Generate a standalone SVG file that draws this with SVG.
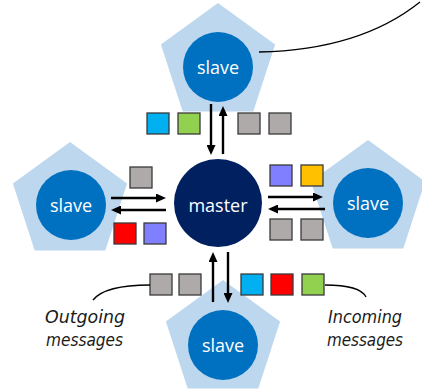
<svg xmlns="http://www.w3.org/2000/svg" width="422" height="392" viewBox="0 0 422 392">
<style>
.pent{fill:#BDD7EE}
.slave{fill:#0070C0}
.lbl{font-family:"Open Sans","Liberation Sans",sans-serif;font-size:18px;fill:#FFFFFF;text-anchor:middle}
.sq{stroke:#3A3A3A;stroke-width:1.3}
.gray{fill:#AEAAAA}.cyan{fill:#00B0F0}.green{fill:#92D050}.red{fill:#FF0000}.blue{fill:#7F7FFF}.yellow{fill:#FFC000}
.arr{stroke:#000;stroke-width:2.4;fill:none;marker-end:url(#ah)}
.curve{stroke:#000;stroke-width:1.3;fill:none}
.note{font-family:"DejaVu Sans","Liberation Sans",sans-serif;font-style:italic;font-size:17px;fill:#1A1A1A}
</style>
<defs>
<marker id="ah" markerUnits="userSpaceOnUse" markerWidth="10" markerHeight="9" refX="2" refY="4.5" orient="auto">
<path d="M0,0 L10,4.5 L0,9 Z" fill="#000"/>
</marker>
</defs>
<g id="slave-top">
<polygon class="pent" points="218,3 275.1,44.5 253.3,111.5 182.7,111.5 160.9,44.5"/>
<circle class="slave" cx="218" cy="67" r="35"/>
<text class="lbl" x="218" y="74">slave</text>
</g>
<g id="slave-left">
<polygon class="pent" points="70,142 127.1,183.5 105.3,250.5 34.7,250.5 12.9,183.5"/>
<circle class="slave" cx="71" cy="205" r="35"/>
<text class="lbl" x="71" y="212">slave</text>
</g>
<g id="slave-right">
<polygon class="pent" points="368,140 425.1,181.5 403.3,248.5 332.7,248.5 310.9,181.5"/>
<circle class="slave" cx="368" cy="203" r="35"/>
<text class="lbl" x="368" y="210">slave</text>
</g>
<g id="slave-bottom">
<polygon class="pent" points="223,280 280.1,321.5 258.3,388.5 187.7,388.5 165.9,321.5"/>
<circle class="slave" cx="223" cy="345" r="35"/>
<text class="lbl" x="223" y="352">slave</text>
</g>
<g id="master">
<circle cx="218" cy="203" r="44" fill="#002060"/>
<text class="lbl" x="218" y="212">master</text>
</g>
<g id="messages">
<rect class="sq cyan" x="147" y="113" width="22" height="21"/>
<rect class="sq green" x="178" y="113" width="22" height="21"/>
<rect class="sq gray" x="238" y="113" width="22" height="21"/>
<rect class="sq gray" x="269" y="113" width="22" height="21"/>
<rect class="sq gray" x="130" y="167" width="22" height="21"/>
<rect class="sq red" x="114" y="223" width="22" height="21"/>
<rect class="sq blue" x="144" y="223" width="22" height="21"/>
<rect class="sq blue" x="270" y="165" width="22" height="21"/>
<rect class="sq yellow" x="301" y="165" width="22" height="21"/>
<rect class="sq gray" x="270" y="219" width="22" height="21"/>
<rect class="sq gray" x="301" y="219" width="22" height="21"/>
<rect class="sq gray" x="150" y="274" width="22" height="21"/>
<rect class="sq gray" x="179" y="274" width="22" height="21"/>
<rect class="sq cyan" x="241" y="274" width="22" height="21"/>
<rect class="sq red" x="271" y="274" width="22" height="21"/>
<rect class="sq green" x="302" y="274" width="22" height="21"/>
</g>
<g id="connectors">
<line class="arr" x1="211" y1="104" x2="211" y2="147"/>
<line class="arr" x1="223" y1="154" x2="223" y2="114"/>
<line class="arr" x1="111" y1="198" x2="158" y2="198"/>
<line class="arr" x1="166" y1="210" x2="119" y2="210"/>
<line class="arr" x1="268" y1="197" x2="315" y2="197"/>
<line class="arr" x1="325" y1="209" x2="276" y2="209"/>
<line class="arr" x1="213" y1="302" x2="213" y2="260"/>
<line class="arr" x1="228" y1="252" x2="228" y2="295"/>
<path class="curve" d="M259,52 Q360,50 420,2"/>
<path class="curve" d="M150,285 Q105,285 93,300"/>
<path class="curve" d="M325,285 Q360,285 366,297"/>
</g>
<g id="notes">
<text class="note" x="45" y="323" textLength="80" lengthAdjust="spacingAndGlyphs">Outgoing</text>
<text class="note" x="46" y="346" textLength="77" lengthAdjust="spacingAndGlyphs">messages</text>
<text class="note" x="328" y="323" textLength="74" lengthAdjust="spacingAndGlyphs">Incoming</text>
<text class="note" x="327" y="346" textLength="76" lengthAdjust="spacingAndGlyphs">messages</text>
</g>
</svg>
